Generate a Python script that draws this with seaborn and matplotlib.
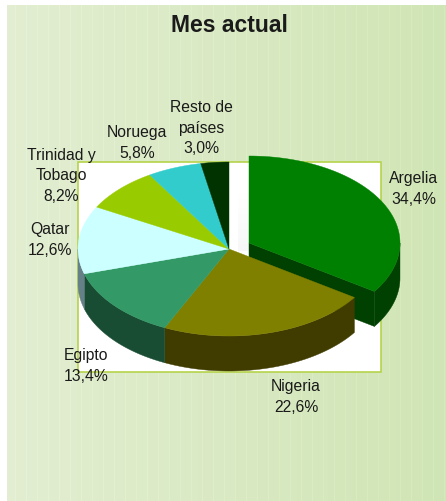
import numpy as np
import matplotlib
matplotlib.use("Agg")
import matplotlib.pyplot as plt
from matplotlib.patches import Polygon, Rectangle
import seaborn as sns

sns.set_theme(style="white")
plt.rcParams['font.family'] = ['Liberation Sans', 'DejaVu Sans']

title = "Mes actual"
categories = ["Argelia", "Nigeria", "Egipto", "Qatar", "Trinidad y\nTobago", "Noruega", "Resto de\npaíses"]
shares = [34.4, 22.6, 13.4, 12.6, 8.2, 5.8, 3.0]
top_colors = ["#008000", "#808000", "#339966", "#CCFFFF", "#99CC00", "#33CCCC", "#003300"]
side_colors = ["#004000", "#403C00", "#194D33", "#668088", "#4D6600", "#1A6666", "#001A00"]
label_xy = [(414, 189), (296, 397), (86, 366), (50, 240), (61, 176), (137, 143), (201, 128)]

W, H = 446, 502
fig = plt.figure(figsize=(W / 100, H / 100), dpi=100)
ax = fig.add_axes([0, 0, 1, 1])
ax.axis("off")

# background: white margin at left and top, soft gradient with thin light lines
left = np.array([227, 238, 210]) / 255
right = np.array([208, 229, 181]) / 255
t = np.linspace(0, 1, W)[:, None]
grad = left * (1 - t) + right * t
grad[np.arange(15, W, 11)] += 0.018
img = np.repeat(np.clip(grad, 0, 1)[None, :, :], H, axis=0)
img[:6, :] = 1.0
img[:, :7] = 1.0
ax.imshow(img, extent=(0, W, H, 0), aspect="auto", zorder=0, interpolation="nearest")
ax.set_xlim(0, W)
ax.set_ylim(H, 0)

ax.add_patch(Rectangle((78, 163), 303, 210, fc="white", ec="#B5D34A", lw=1.2, zorder=1))

# faint smudge left in the gap of the exploded slice
shade = np.zeros((60, 1, 4))
shade[:, :, :3] = 0.6
shade[:, 0, 3] = np.linspace(0, 0.08, 60)
ax.imshow(shade, extent=(238, 249, 252, 192), aspect="auto", zorder=1.5)
ax.set_xlim(0, W)
ax.set_ylim(H, 0)

RX, RY, DEPTH = 151, 87, 35
CX, CY = 229, 250
AX_, AY_ = 249, 244


def pt(a, cx, cy, dy=0):
    r = np.radians(a)
    return np.column_stack([cx + RX * np.sin(r), cy - RY * np.cos(r) + dy])


def arc(a0, a1, cx, cy, dy=0):
    return pt(np.linspace(a0, a1, 120), cx, cy, dy)


def top(a0, a1, cx, cy, color, z):
    xy = np.vstack([[cx, cy], arc(a0, a1, cx, cy)])
    ax.add_patch(Polygon(xy, closed=True, fc=color, ec=color, lw=0.3, zorder=z))


def side(a0, a1, cx, cy, color, z):
    xy = np.vstack([arc(a0, a1, cx, cy), arc(a0, a1, cx, cy, DEPTH)[::-1]])
    ax.add_patch(Polygon(xy, closed=True, fc=color, ec=color, lw=0.3, zorder=z))


edges = np.concatenate([[0], np.cumsum(shares)]) * 3.6

# exploded slice first: the rest of the pie sits in front of it
a1 = edges[1]
side(90, a1, AX_, AY_, side_colors[0], 2)
end = pt(np.array([a1]), AX_, AY_)[0]
wall = np.array([[AX_, AY_], end, end + [0, DEPTH], [AX_, AY_ + DEPTH]])
ax.add_patch(Polygon(wall, closed=True, fc=side_colors[0], ec=side_colors[0], lw=0.3, zorder=2))
top(0, a1, AX_, AY_, top_colors[0], 3)

for i in range(1, len(shares)):
    a0, a1 = edges[i], edges[i + 1]
    if a0 < 270:
        side(a0, min(a1, 270), CX, CY, side_colors[i], 4)
for i in range(1, len(shares)):
    top(edges[i], edges[i + 1], CX, CY, top_colors[i], 5)

for cat, val, (x, y) in zip(categories, shares, label_xy):
    s = f"{cat}\n{val:.1f}%".replace(".", ",")
    ax.text(x, y, s, ha="center", va="center", fontsize=11.3, color="#1a1a1a",
            linespacing=1.44, zorder=6)

ax.text(229, 26, title, ha="center", va="center", fontsize=16.5, fontweight="bold",
        color="#1a1a1a", zorder=6)

fig.savefig("out.png", dpi=100)
